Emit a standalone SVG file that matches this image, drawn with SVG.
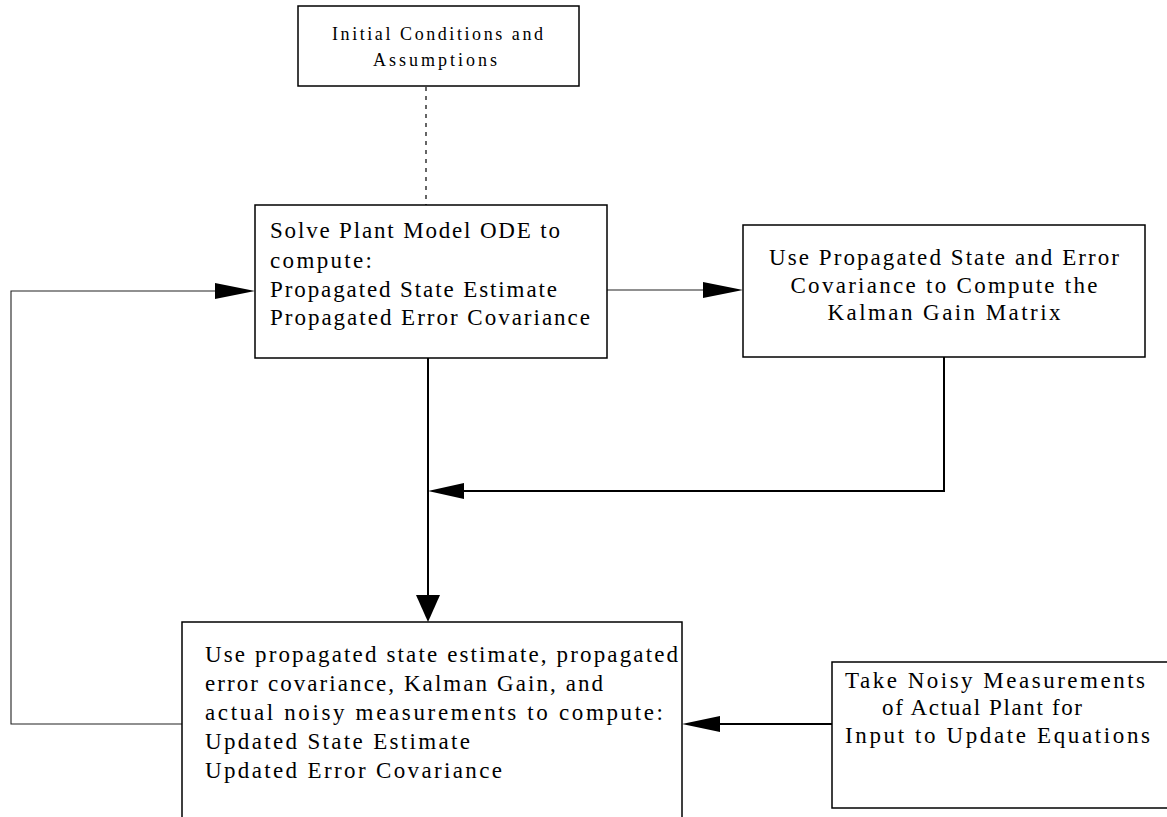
<svg xmlns="http://www.w3.org/2000/svg" width="1167" height="817" viewBox="0 0 1167 817">
<style>
.box{fill:#fff;stroke:#000;stroke-width:1.5}
.t{font-family:"Liberation Serif","Times New Roman",serif;font-size:23px;fill:#000}
.ts{font-family:"Liberation Serif","Times New Roman",serif;font-size:18px;fill:#000}
.thin{fill:none;stroke:#222;stroke-width:1.1}
.thick{fill:none;stroke:#000;stroke-width:2}
.ah{fill:#000}
</style>
<rect width="1167" height="817" fill="#fff"/>
<g id="connectors">
  <line x1="426" y1="87" x2="426" y2="205" stroke="#000" stroke-width="1.2" stroke-dasharray="4,5"/>
  <polyline class="thin" points="182,724 11,724 11,291 216,291"/>
  <polygon class="ah" points="255,291 215,283 215,299"/>
  <line class="thin" x1="607" y1="290" x2="704" y2="290"/>
  <polygon class="ah" points="743,290 703,282 703,298"/>
  <line class="thick" x1="428" y1="358" x2="428" y2="596"/>
  <polygon class="ah" points="428,622 416,595 440,595"/>
  <polyline class="thick" points="944,357 944,491 462,491"/>
  <polygon class="ah" points="428,491 464,483 464,499"/>
  <line class="thick" x1="832" y1="724" x2="718" y2="724"/>
  <polygon class="ah" points="682,724 720,716 720,732"/>
</g>
<g id="n-initial">
  <rect class="box" x="298" y="6" width="281" height="80"/>
  <text class="ts" x="332" y="40" textLength="211" lengthAdjust="spacing">Initial Conditions and</text>
  <text class="ts" x="373" y="66" textLength="124" lengthAdjust="spacing">Assumptions</text>
</g>
<g id="n-propagate">
  <rect class="box" x="255" y="205" width="352" height="153"/>
  <text class="t" x="270" y="238" textLength="290" lengthAdjust="spacing">Solve Plant Model ODE to</text>
  <text class="t" x="270" y="268" textLength="102" lengthAdjust="spacing">compute:</text>
  <text class="t" x="270" y="297" textLength="287" lengthAdjust="spacing">Propagated State Estimate</text>
  <text class="t" x="270" y="325" textLength="320" lengthAdjust="spacing">Propagated Error Covariance</text>
</g>
<g id="n-gain">
  <rect class="box" x="743" y="225" width="402" height="132"/>
  <text class="t" x="944" y="265" text-anchor="middle" textLength="350" lengthAdjust="spacing">Use Propagated State and Error</text>
  <text class="t" x="944" y="293" text-anchor="middle" textLength="307" lengthAdjust="spacing">Covariance to Compute the</text>
  <text class="t" x="944" y="320" text-anchor="middle" textLength="233" lengthAdjust="spacing">Kalman Gain Matrix</text>
</g>
<g id="n-update">
  <rect class="box" x="182" y="622" width="500" height="220"/>
  <text class="t" x="205" y="662" textLength="473" lengthAdjust="spacing">Use propagated state estimate, propagated</text>
  <text class="t" x="205" y="691" textLength="398" lengthAdjust="spacing">error covariance, Kalman Gain, and</text>
  <text class="t" x="205" y="720" textLength="458" lengthAdjust="spacing">actual noisy measurements to compute:</text>
  <text class="t" x="205" y="749" textLength="265" lengthAdjust="spacing">Updated State Estimate</text>
  <text class="t" x="205" y="778" textLength="297" lengthAdjust="spacing">Updated Error Covariance</text>
</g>
<g id="n-measure">
  <rect class="box" x="832" y="662" width="345" height="146"/>
  <text class="t" x="845" y="688" textLength="300" lengthAdjust="spacing">Take Noisy Measurements</text>
  <text class="t" x="882" y="715" textLength="200" lengthAdjust="spacing">of Actual Plant for</text>
  <text class="t" x="845" y="743" textLength="305" lengthAdjust="spacing">Input to Update Equations</text>
</g>
</svg>
